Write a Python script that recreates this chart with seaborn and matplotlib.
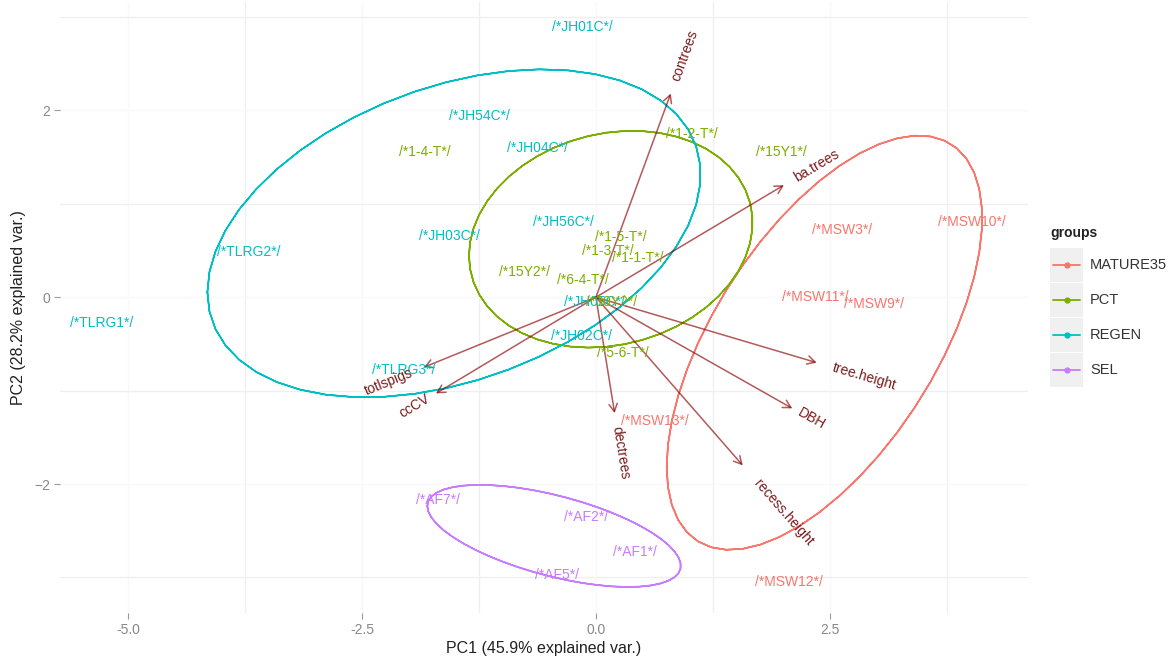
import numpy as np
import pandas as pd
import seaborn as sns
import matplotlib.pyplot as plt
from matplotlib.lines import Line2D
from matplotlib.patches import Rectangle
from matplotlib.transforms import offset_copy

# sample scores on PC1 / PC2
sample_labels = ['/*JH01C*/', '/*JH54C*/', '/*JH04C*/', '/*JH56C*/', '/*JH03C*/',
                 '/*TLRG2*/', '/*TLRG1*/', '/*TLRG3*/', '/*JH05C*/', '/*JH02C*/',
                 '/*1-4-T*/', '/*1-2-T*/', '/*15Y1*/', '/*1-5-T*/', '/*1-3-T*/',
                 '/*1-1-T*/', '/*15Y2*/', '/*6-4-T*/', '/*30Y2*/', '/*5-6-T*/',
                 '/*MSW3*/', '/*MSW10*/', '/*MSW11*/', '/*MSW9*/', '/*MSW13*/', '/*MSW12*/',
                 '/*AF7*/', '/*AF2*/', '/*AF1*/', '/*AF5*/']
sample_groups = ['REGEN'] * 10 + ['PCT'] * 10 + ['MATURE35'] * 6 + ['SEL'] * 4
pc1 = [-0.15, -1.25, -0.63, -0.35, -1.57, -3.71, -5.28, -2.06, -0.02, -0.15,
       -1.83, 1.03, 1.98, 0.27, 0.13, 0.45, -0.76, -0.14, 0.17, 0.29,
       2.63, 4.02, 2.35, 2.97, 0.63, 2.06,
       -1.69, -0.10, 0.42, -0.42]
pc2 = [2.89, 1.94, 1.60, 0.80, 0.66, 0.48, -0.28, -0.78, -0.05, -0.42,
       1.55, 1.75, 1.55, 0.64, 0.50, 0.42, 0.27, 0.18, -0.05, -0.60,
       0.72, 0.80, 0.00, -0.07, -1.32, -3.05,
       -2.17, -2.35, -2.73, -2.97]

# variable loadings (arrows)
var_names = ['contrees', 'ba.trees', 'tree.height', 'DBH', 'recess.height',
             'dectrees', 'ccCV', 'totlspigs']
var_pc1 = [0.80, 2.01, 2.36, 2.10, 1.57, 0.20, -1.71, -1.84]
var_pc2 = [2.18, 1.20, -0.70, -1.19, -1.80, -1.24, -1.03, -0.75]

group_names = ['MATURE35', 'PCT', 'REGEN', 'SEL']
group_colors = ['#F8766D', '#7CAE00', '#00BFC4', '#C77CFF']
palette = dict(zip(group_names, group_colors))

df = pd.DataFrame({'label': sample_labels, 'groups': sample_groups, 'PC1': pc1, 'PC2': pc2})

# normal probability ellipses (68%) per group, as ggbiplot does
theta = np.concatenate([np.linspace(-np.pi, np.pi, 50), np.linspace(np.pi, -np.pi, 50)])
circle = np.column_stack([np.cos(theta), np.sin(theta)])
ed = np.sqrt(-2 * np.log(1 - 0.68))
ell_parts = []
for g, sub in df.groupby('groups'):
    xy = sub[['PC1', 'PC2']].to_numpy()
    sigma = np.cov(xy.T)
    R = np.linalg.cholesky(sigma).T
    pts = circle @ R * ed + xy.mean(axis=0)
    ell_parts.append(pd.DataFrame({'PC1': pts[:, 0], 'PC2': pts[:, 1], 'groups': g}))
ell = pd.concat(ell_parts, ignore_index=True)

sns.set_style('white')
plt.rcParams['font.family'] = ['Liberation Sans', 'DejaVu Sans']

fig = plt.figure(figsize=(11.68, 6.62), dpi=100)
ax = fig.add_axes([60 / 1168, 49 / 662, 968 / 1168, 611 / 662])

sns.lineplot(data=ell, x='PC1', y='PC2', hue='groups', palette=palette, sort=False,
             estimator=None, units='groups', legend=False, lw=1.15, ax=ax)

# arrows
for name, vx, vy in zip(var_names, var_pc1, var_pc2):
    ax.annotate('', xy=(vx, vy), xytext=(0, 0),
                arrowprops=dict(arrowstyle='->,head_length=0.55,head_width=0.3',
                                color='darkred', alpha=0.65, lw=1.1,
                                shrinkA=0, shrinkB=0))

# sample labels
for _, r in df.iterrows():
    ax.text(r['PC1'], r['PC2'], r['label'], color=palette[r['groups']],
            ha='center', va='center', fontsize=10)

# variable names, placed like ggbiplot (varname.adjust = 1.5)
renderer = fig.canvas.get_renderer()
for name, vx, vy in zip(var_names, var_pc1, var_pc2):
    ang = np.degrees(np.arctan(vy / vx))
    tmp = fig.text(0, 0, name, fontsize=10)
    w = tmp.get_window_extent(renderer).width
    tmp.remove()
    s = 1 if vx > 0 else -1
    dx = s * 0.25 * w * np.cos(np.radians(ang))
    dy = s * 0.25 * w * np.sin(np.radians(ang))
    tr = offset_copy(ax.transData, fig=fig, x=dx, y=dy, units='dots')
    ax.text(vx, vy, name, rotation=ang, rotation_mode='anchor',
            ha='left' if vx > 0 else 'right', va='center',
            color='#7a1a1a', fontsize=10, transform=tr)

ax.set_xlim(-5.73, 4.62)
ax.set_ylim(-3.38, 3.16)
ax.set_xticks([-5, -2.5, 0, 2.5])
ax.set_xticklabels(['-5.0', '-2.5', '0.0', '2.5'])
ax.set_yticks([-2, 0, 2])
ax.set_xticks([-3.75, -1.25, 1.25, 3.75], minor=True)
ax.set_yticks([-3, -1, 1, 3], minor=True)
ax.grid(which='minor', color='#efefef', lw=0.9)
ax.grid(which='major', color='#f9f9f9', lw=1.0)
ax.tick_params(which='major', length=4, color='#999999', labelcolor='#888888',
               labelsize=10, direction='out', bottom=True, left=True, pad=3)
ax.tick_params(which='minor', length=0)
for sp in ax.spines.values():
    sp.set_visible(False)
ax.set_xlabel('PC1 (45.9% explained var.)', fontsize=11.5, color='#222222', labelpad=3)
ax.set_ylabel('PC2 (28.2% explained var.)', fontsize=11.5, color='#222222', labelpad=6)

# legend, drawn like ggplot's guide
fig.text(1050 / 1168, 1 - 233 / 662, 'groups', fontsize=10, fontweight='bold',
         color='#222222', va='center', ha='left')
key_tops = [248, 283, 318, 353]
for g, c, top in zip(group_names, group_colors, key_tops):
    fig.add_artist(Rectangle((1050 / 1168, 1 - (top + 34) / 662), 33 / 1168, 34 / 662,
                             transform=fig.transFigure, color='#f0f0f0', lw=0))
    yc = 1 - (top + 17) / 662
    fig.add_artist(Line2D([1053 / 1168, 1080 / 1168], [yc, yc], transform=fig.transFigure,
                          color=c, lw=1.3))
    fig.add_artist(Line2D([1066.5 / 1168], [yc], transform=fig.transFigure,
                          color=c, marker='o', ms=3.5, lw=0))
    fig.text(1090 / 1168, yc, g, fontsize=10.5, color='#333333', va='center', ha='left')

fig.savefig('out.png', dpi=100)
